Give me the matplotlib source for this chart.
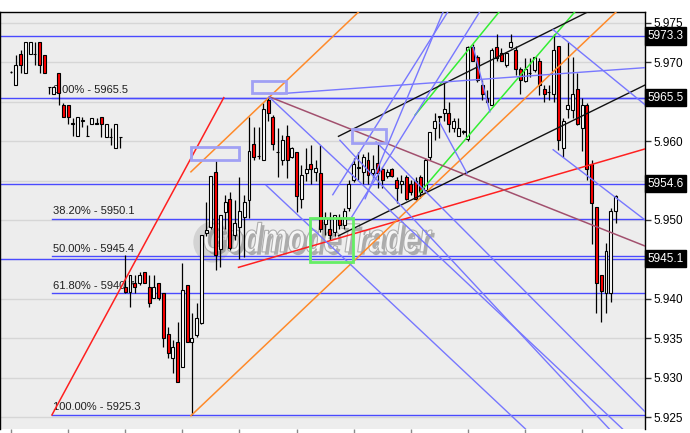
import matplotlib
matplotlib.use("Agg")
import matplotlib.pyplot as plt
import matplotlib.patheffects as pe
import matplotlib.transforms as mtransforms
from matplotlib.patches import Rectangle, Ellipse, PathPatch
from matplotlib.textpath import TextPath
from matplotlib.font_manager import FontProperties

plt.rcParams['font.family'] = ['Liberation Sans', 'DejaVu Sans']

# candle data (index = bar number)
opens = [
    5968.7, 5967.1, 5971.0, 5968.6, 5971.0, 5971.0, 5972.5, 5970.9, 5966.8, 5966.0,
    5968.6, 5964.6, 5964.6, 5962.2, 5960.6, 5962.6, 5960.6, 5962.2, 5962.2, 5963.0,
    5960.5, 5960.5, 5959.1, 5960.5, 5941.5, 5940.9, 5942.0, 5942.0, 5943.4, 5941.5,
    5940.1, 5942.0, 5940.7, 5935.6, 5932.5, 5934.6, 5931.4, 5941.8, 5934.5, 5935.4,
    5937.0, 5948.3, 5949.1, 5956.1, 5946.3, 5951.0, 5952.6, 5948.1, 5949.1, 5950.4,
    5952.5, 5959.6, 5958.1, 5957.6, 5965.2, 5963.0, 5958.6, 5957.6, 5960.6, 5958.0,
    5958.6, 5952.7, 5956.0, 5957.1, 5956.1, 5956.0, 5949.5, 5948.9, 5948.5, 5950.2,
    5949.4, 5951.5, 5955.1, 5956.6, 5956.1, 5957.6, 5956.0, 5957.2, 5956.5, 5955.6,
    5956.5, 5955.1, 5954.5, 5955.5, 5954.5, 5954.9, 5955.5, 5953.8, 5958.0, 5961.6,
    5963.1, 5963.5, 5963.5, 5961.6, 5960.6, 5961.2, 5960.3, 5971.9, 5970.6, 5967.1,
    5965.5, 5964.6, 5971.9, 5971.1, 5969.6, 5971.9, 5971.5, 5969.1, 5967.6, 5968.6,
    5969.0, 5970.1, 5966.6, 5966.2, 5966.0, 5972.0, 5959.1, 5964.0, 5963.9, 5966.6,
    5961.6, 5964.6, 5957.1, 5951.6, 5943.0, 5940.7, 5940.7, 5951.2]
highs = [
    5968.9, 5970.9, 5971.5, 5972.5, 5972.5, 5972.5, 5972.5, 5970.9, 5966.8, 5966.9,
    5968.6, 5964.8, 5964.6, 5962.9, 5963.0, 5963.0, 5962.0, 5962.9, 5962.9, 5963.0,
    5962.2, 5961.7, 5962.1, 5960.5, 5945.6, 5943.0, 5943.0, 5943.4, 5943.4, 5943.0,
    5943.0, 5942.0, 5940.7, 5936.5, 5934.8, 5937.1, 5944.5, 5941.8, 5938.2, 5939.5,
    5948.1, 5952.3, 5955.6, 5957.6, 5950.6, 5953.2, 5953.6, 5952.5, 5955.5, 5953.2,
    5963.1, 5961.8, 5961.8, 5964.8, 5965.6, 5963.3, 5961.6, 5960.8, 5962.0, 5959.3,
    5958.6, 5957.0, 5959.1, 5959.5, 5957.6, 5959.5, 5951.0, 5951.0, 5950.6, 5950.8,
    5951.5, 5955.1, 5957.8, 5958.6, 5958.4, 5958.6, 5958.2, 5959.9, 5956.7, 5956.5,
    5956.6, 5955.5, 5955.7, 5955.7, 5955.1, 5955.5, 5955.7, 5957.8, 5961.2, 5963.5,
    5963.1, 5967.3, 5965.0, 5962.9, 5962.9, 5961.4, 5972.1, 5972.3, 5970.9, 5967.7,
    5966.5, 5971.8, 5973.6, 5971.8, 5971.3, 5973.5, 5972.0, 5969.4, 5970.5, 5970.5,
    5970.7, 5970.5, 5967.1, 5967.1, 5973.5, 5972.0, 5962.9, 5972.6, 5970.7, 5968.6,
    5965.4, 5964.8, 5957.6, 5951.6, 5943.0, 5947.1, 5951.5, 5953.2]
lows = [
    5968.6, 5967.1, 5968.6, 5968.6, 5971.0, 5969.6, 5968.6, 5968.6, 5966.0, 5966.0,
    5964.6, 5963.0, 5962.2, 5960.6, 5960.6, 5961.8, 5960.6, 5962.2, 5962.2, 5960.5,
    5960.5, 5959.5, 5959.1, 5959.1, 5940.7, 5939.0, 5940.7, 5941.8, 5942.0, 5939.0,
    5940.1, 5939.9, 5933.9, 5932.5, 5930.6, 5929.5, 5931.4, 5934.6, 5925.3, 5935.2,
    5936.8, 5948.0, 5948.8, 5943.7, 5944.1, 5948.9, 5946.2, 5947.5, 5945.1, 5945.3,
    5950.2, 5957.6, 5957.7, 5957.6, 5962.5, 5958.9, 5955.5, 5957.0, 5955.3, 5957.8,
    5951.0, 5951.5, 5954.9, 5954.6, 5954.9, 5948.5, 5948.1, 5947.5, 5948.0, 5948.9,
    5948.9, 5951.1, 5954.8, 5955.1, 5954.6, 5954.6, 5955.3, 5954.0, 5954.0, 5955.3,
    5955.5, 5952.1, 5953.4, 5952.5, 5953.2, 5952.5, 5952.8, 5953.5, 5957.6, 5960.1,
    5960.4, 5962.5, 5961.2, 5961.2, 5960.6, 5960.9, 5960.0, 5970.1, 5967.5, 5965.2,
    5964.8, 5964.6, 5970.1, 5970.1, 5969.4, 5971.8, 5968.4, 5966.0, 5967.5, 5968.1,
    5968.8, 5965.8, 5965.0, 5965.2, 5965.0, 5958.9, 5958.0, 5962.9, 5962.9, 5962.0,
    5958.7, 5955.1, 5947.0, 5938.2, 5937.1, 5938.2, 5939.6, 5949.6]
closes = [
    5968.7, 5969.6, 5969.6, 5972.5, 5972.5, 5971.0, 5969.6, 5968.6, 5966.8, 5966.9,
    5966.1, 5963.0, 5963.0, 5962.2, 5963.0, 5962.6, 5960.6, 5962.9, 5962.2, 5962.2,
    5962.2, 5960.5, 5962.1, 5960.5, 5940.9, 5943.0, 5941.5, 5943.0, 5942.0, 5939.5,
    5941.5, 5940.1, 5935.0, 5933.1, 5933.9, 5929.5, 5941.1, 5934.6, 5935.0, 5937.6,
    5948.1, 5948.7, 5955.6, 5945.6, 5950.6, 5952.3, 5946.5, 5949.6, 5951.1, 5952.3,
    5958.7, 5958.0, 5958.1, 5964.1, 5963.5, 5959.6, 5958.6, 5960.1, 5957.6, 5959.1,
    5953.0, 5955.7, 5956.5, 5956.5, 5956.6, 5948.9, 5950.2, 5948.1, 5950.6, 5949.4,
    5951.1, 5954.6, 5957.1, 5956.6, 5958.0, 5955.7, 5956.5, 5956.0, 5955.1, 5956.1,
    5955.6, 5954.0, 5954.9, 5952.7, 5953.5, 5952.7, 5953.6, 5957.6, 5961.1, 5962.5,
    5963.1, 5964.1, 5962.1, 5962.5, 5961.6, 5961.2, 5971.9, 5970.1, 5967.7, 5966.0,
    5965.0, 5971.5, 5970.5, 5970.1, 5971.1, 5972.6, 5969.1, 5967.7, 5969.1, 5968.6,
    5970.6, 5967.1, 5966.0, 5966.2, 5971.5, 5960.1, 5962.5, 5964.6, 5966.0, 5962.2,
    5964.6, 5956.5, 5952.1, 5942.0, 5941.0, 5946.1, 5951.2, 5953.0]

# fibonacci retracement
fib_start = 8.6
fib_levels = ["0.00%", "38.20%", "50.00%", "61.80%", "100.00%"]
fib_prices = [5965.5, 5950.1, 5945.4, 5940.7, 5925.3]
# horizontal levels with price boxes on the right
level_prices = [5973.3, 5965.5, 5954.6, 5945.1]

# drawn trend lines: (bar, price) -> (bar, price)
red_lines = [((8.6, 5925.3), (44.7, 5965.5)), ((47.8, 5944.0), (140.0, 5960.2))]
orange_lines = [((37.8, 5956.1), (73.1, 5976.4)), ((37.8, 5925.2), (127.2, 5976.4))]
green_lines = [((84.9, 5963.3), (102.6, 5976.4)), ((85.9, 5953.5), (118.5, 5976.4))]
black_lines = [((68.8, 5960.6), (121.3, 5976.4)), ((68.8, 5948.0), (133.2, 5967.1))]
maroon_lines = [((54.3, 5965.6), (133.2, 5946.7))]
blue_lines = [
    ((56.5, 5966.0), (133.2, 5969.3)),
    ((53.6, 5954.4), (109.0, 5923.0)),
    ((54.2, 5965.6), (129.4, 5923.0)),
    ((69.1, 5960.1), (126.5, 5923.0)),
    ((76.7, 5959.9), (133.2, 5925.7)),
    ((113.9, 5974.1), (133.2, 5964.6)),
    ((113.9, 5958.9), (133.2, 5950.0)),
    ((67.6, 5953.2), (91.8, 5976.4)),
    ((71.6, 5950.4), (98.5, 5976.4)),
    ((74.4, 5952.7), (90.8, 5976.4)),
    ((97.1, 5971.9), (100.6, 5963.7)),
    ((90.1, 5962.3), (95.8, 5955.9)),
]
blue_boxes = [(37.8, 5957.6, 47.8, 5959.3), (50.6, 5966.05, 57.8, 5967.6),
              (71.6, 5959.8, 78.8, 5961.5)]
green_boxes = [(62.8, 5944.7, 71.8, 5950.2)]

x_ticks = [0, 12, 24, 36, 48, 60, 72, 84, 96, 108, 120]
y_ticks = [5925, 5930, 5935, 5940, 5945, 5950, 5955, 5960, 5965, 5970, 5975]

fig = plt.figure(figsize=(6.9, 4.33), dpi=100)
ax = fig.add_axes([0, 4 / 433, 645 / 690, 417 / 433])
ax.set_facecolor('#ededed')
ax.set_xlim(-2.31, 133.19)
ax.set_ylim(5923.52, 5976.35)

for y in y_ticks:
    ax.axhline(y, color='#d6d6d6', lw=1, zorder=0)

# watermark: logo disc + condensed bold italic text
ax.add_patch(Ellipse((42.3, 5947.2), 8.0, 5.2, facecolor='#b4b4b4', edgecolor='none',
                     alpha=0.45, zorder=1))
tp = TextPath((0, 0), "GodmodeTrader", size=40,
              prop=FontProperties(family='Liberation Sans', weight='bold', style='italic'))
ext = tp.get_extents()
cx, cy = ax.transData.transform((64.5, 5947.8))
sx, sy = 228 / ext.width, 30 / ext.height
wm_tr = (mtransforms.Affine2D().translate(-ext.x0 - ext.width / 2, -ext.y0 - ext.height / 2)
         .scale(sx, sy).translate(cx, cy))
wm = PathPatch(tp, transform=wm_tr, facecolor='#f7f7f7', edgecolor='#a8a8a8', lw=0.8,
               alpha=0.92, zorder=1,
               path_effects=[pe.SimplePatchShadow(offset=(2, -2), shadow_rgbFace='#7a7a7a', alpha=0.55),
                             pe.Normal()])
ax.add_artist(wm)

# horizontal lines
hcol = '#4a4aff'
for p in level_prices:
    ax.axhline(p, color=hcol, lw=1, zorder=2)
for p in fib_prices:
    ax.plot([fib_start, 140], [p, p], color=hcol, lw=1, zorder=2)
for name, p in zip(fib_levels, fib_prices):
    ax.text(fib_start + 0.3, p + 0.35, f"{name} - {p:.1f}", fontsize=8, color='#202020',
            va='bottom', ha='left', zorder=3)

# candles
w = 0.62
for i in range(len(opens)):
    o, h, l, c = opens[i], highs[i], lows[i], closes[i]
    ax.vlines(i, l, h, color='black', lw=0.9, zorder=4)
    lo, hi = min(o, c), max(o, c)
    face = 'white' if c >= o else '#ff0000'
    ax.add_patch(Rectangle((i - w / 2, lo), w, max(hi - lo, 0.05), facecolor=face,
                           edgecolor='black', lw=0.8, zorder=5))

# trend lines
def draw(lines, color, lw=1.0, alpha=1.0):
    for (x0, y0), (x1, y1) in lines:
        ax.plot([x0, x1], [y0, y1], color=color, lw=lw, alpha=alpha, zorder=6)

draw(red_lines, '#ff2020', 1.1)
draw(orange_lines, '#ff8a2a', 1.1)
draw(green_lines, '#33ee33', 1.1)
draw(black_lines, '#111111', 1.0)
draw(maroon_lines, '#a2506e', 1.1)
draw(blue_lines, '#7777ff', 1.0)

for x0, y0, x1, y1 in blue_boxes:
    ax.add_patch(Rectangle((x0, y0), x1 - x0, y1 - y0, fill=False, edgecolor='#a0a0f4',
                           lw=2, zorder=6))
for x0, y0, x1, y1 in green_boxes:
    ax.add_patch(Rectangle((x0, y0), x1 - x0, y1 - y0, fill=False, edgecolor='#66ee66',
                           lw=2, zorder=6))

# axes styling
ax.spines['bottom'].set_visible(False)
for s in ['top', 'left', 'right']:
    ax.spines[s].set_color('black')
    ax.spines[s].set_linewidth(1)
ax.yaxis.tick_right()
ax.set_yticks(y_ticks)
# labels at 5945/5955/5965 sit under the price boxes
ax.set_yticklabels(["" if v in (5945, 5955, 5965) else f"{v / 1000:.3f}" for v in y_ticks])
ax.tick_params(axis='y', length=4, width=1, color='#333333', labelsize=8.5, pad=2)
ax.set_xticks(x_ticks)
ax.set_xticklabels([])
ax.tick_params(axis='x', length=3, width=1, color='#888888', direction='out')

trans = mtransforms.blended_transform_factory(ax.transAxes, ax.transData)
for p in level_prices:
    ax.text(1.004, p, f"{p:.1f}", transform=trans, fontsize=8.5, color='white',
            ha='left', va='center', zorder=10, clip_on=False,
            bbox=dict(boxstyle='square,pad=0.22', fc='black', ec='black'))

fig.savefig('out.png', dpi=100, facecolor='white')
